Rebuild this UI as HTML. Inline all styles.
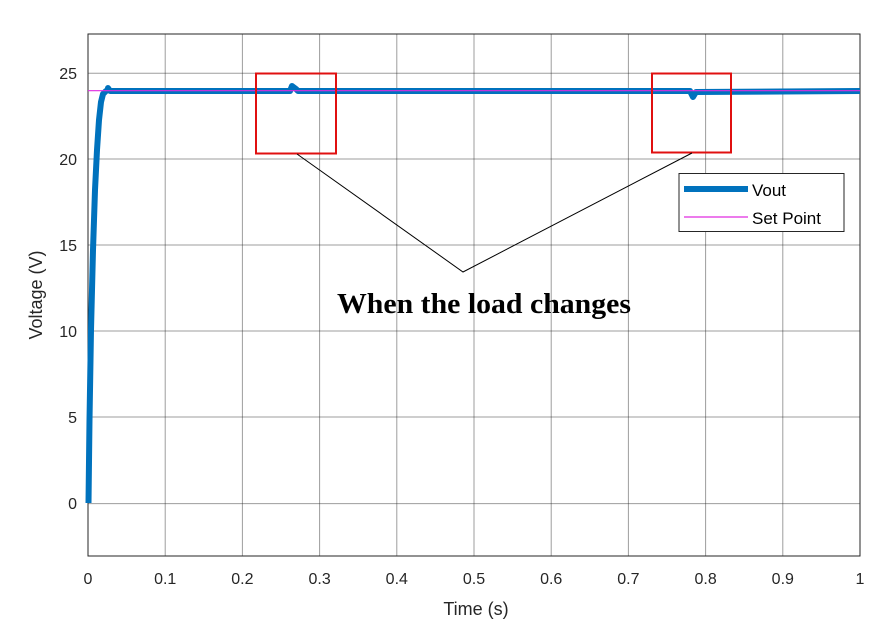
<!DOCTYPE html>
<html><head><style>body{margin:0;background:#fff}</style></head><body>
<svg width="882" height="626" xmlns="http://www.w3.org/2000/svg" font-family="Liberation Sans, sans-serif">
<rect width="882" height="626" fill="#fff"/>
<g stroke="#262626" stroke-opacity="0.45" stroke-width="1">
<line x1="165.2" y1="34" x2="165.2" y2="556"/><line x1="242.4" y1="34" x2="242.4" y2="556"/><line x1="319.6" y1="34" x2="319.6" y2="556"/><line x1="396.8" y1="34" x2="396.8" y2="556"/><line x1="474" y1="34" x2="474" y2="556"/><line x1="551.2" y1="34" x2="551.2" y2="556"/><line x1="628.4" y1="34" x2="628.4" y2="556"/><line x1="705.6" y1="34" x2="705.6" y2="556"/><line x1="782.8" y1="34" x2="782.8" y2="556"/>
<line x1="88" y1="73.3" x2="860" y2="73.3"/><line x1="88" y1="159" x2="860" y2="159"/><line x1="88" y1="245" x2="860" y2="245"/><line x1="88" y1="331" x2="860" y2="331"/><line x1="88" y1="417" x2="860" y2="417"/><line x1="88" y1="503.6" x2="860" y2="503.6"/>
</g>
<rect x="88" y="34" width="772" height="522" fill="none" stroke="#262626" stroke-width="1"/>
<g fill="#262626" font-size="16" text-anchor="middle">
<text x="88" y="584">0</text><text x="165.2" y="584">0.1</text><text x="242.4" y="584">0.2</text><text x="319.6" y="584">0.3</text><text x="396.8" y="584">0.4</text><text x="474" y="584">0.5</text><text x="551.2" y="584">0.6</text><text x="628.4" y="584">0.7</text><text x="705.6" y="584">0.8</text><text x="782.8" y="584">0.9</text><text x="860" y="584">1</text>
<g text-anchor="end"><text x="77" y="79">25</text><text x="77" y="165">20</text><text x="77" y="251">15</text><text x="77" y="337">10</text><text x="77" y="423">5</text><text x="77" y="509">0</text></g>
<text x="476" y="615" font-size="18">Time (s)</text>
<text transform="translate(42,295) rotate(-90)" font-size="18">Voltage (V)</text>
</g>
<path d="M88.5 503 L89.5 420 L91 330 L93 250 L95 190 L97 150 L99 120 L101 102 L103 94 L106 91 L108 90 L108 88 L110 91 L290 91 L292 86 L296 89 L298 91 L690 91 L693 97 L696 92 L860 91" fill="none" stroke="#0072BD" stroke-width="6" stroke-linejoin="round"/>
<line x1="88" y1="90.7" x2="860" y2="90.7" stroke="#E02CE0" stroke-width="1.2"/>
<rect x="256" y="73.5" width="80" height="80" fill="none" stroke="#E01010" stroke-width="2"/>
<rect x="652" y="73.5" width="79" height="79" fill="none" stroke="#E01010" stroke-width="2"/>
<polyline points="297,154 463,272 692,153" fill="none" stroke="#000" stroke-width="1"/>
<text x="484" y="313" font-family="Liberation Serif, serif" font-weight="bold" font-size="29" text-anchor="middle" textLength="294" lengthAdjust="spacingAndGlyphs">When the load changes</text>
<rect x="679" y="173.5" width="165" height="58" fill="#fff" stroke="#262626" stroke-width="1"/>
<line x1="684" y1="189" x2="748" y2="189" stroke="#0072BD" stroke-width="6"/>
<line x1="684" y1="217" x2="748" y2="217" stroke="#E02CE0" stroke-width="1.2"/>
<text x="752" y="196" font-size="17" fill="#000">Vout</text>
<text x="752" y="224" font-size="17" fill="#000">Set Point</text>
</svg>
</body></html>
